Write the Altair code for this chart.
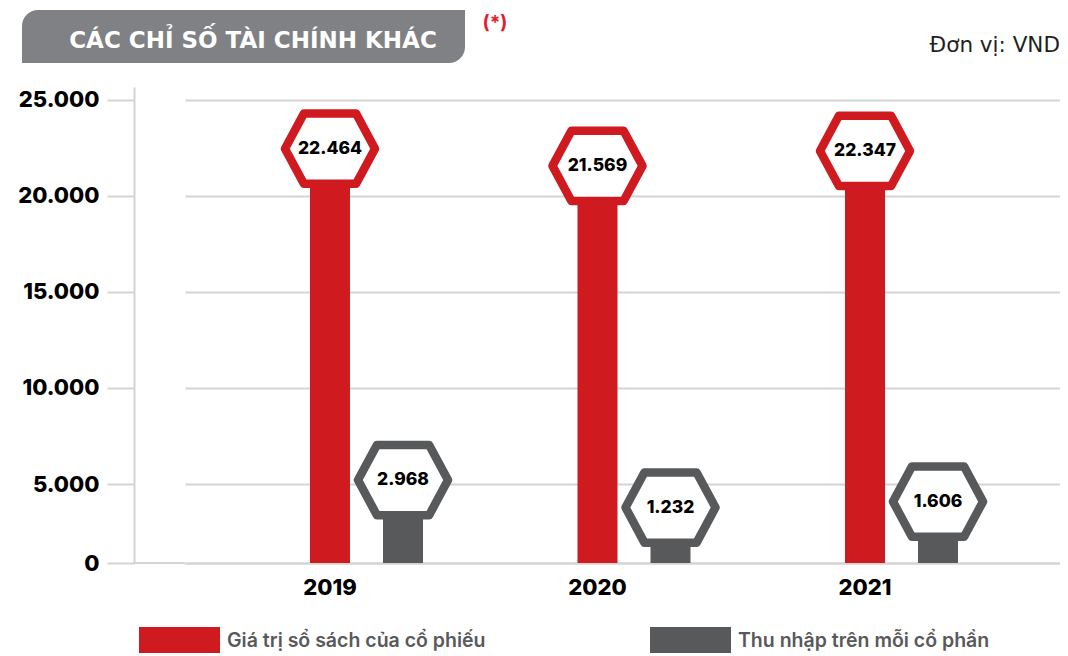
import altair as alt
import pandas as pd

YEARS = ["2019", "2020", "2021"]
BOOK_VALUE = [22464, 21569, 22347]
EPS = [2968, 1232, 1606]
SERIES = ["Giá trị sổ sách của cổ phiếu", "Thu nhập trên mỗi cổ phần"]
COLORS = ["#cf1a20", "#58595b"]
Y_TICKS = [0, 5000, 10000, 15000, 20000, 25000]
TITLE = "CÁC CHỈ SỐ TÀI CHÍNH KHÁC"
NOTE = "(*)"
UNIT = "Đơn vị: VND"

rows = []
for yr, b, e in zip(YEARS, BOOK_VALUE, EPS):
    rows.append({"year": yr, "series": SERIES[0], "value": b})
    rows.append({"year": yr, "series": SERIES[1], "value": e})
df = pd.DataFrame(rows)
df["label"] = df["value"].map(lambda v: f"{v:,}".replace(",", "."))

FONT = "Inter"
HEAD_FONT = "DejaVu Sans"
GRID = "#d4d4d4"
W, H = 875, 476
HEX = "M -1 0 L -0.58 -0.78 L 0.58 -0.78 L 1 0 L 0.58 0.78 L -0.58 0.78 Z"
RECT = "M -1 -0.333 L 1 -0.333 L 1 0.333 L -1 0.333 Z"

x_enc = alt.X(
    "year:N", sort=YEARS,
    scale=alt.Scale(paddingInner=0, paddingOuter=0.1355, align=0.6586),
    axis=alt.Axis(title=None, labelAngle=0, ticks=False, grid=False,
                  domainColor=GRID, domainWidth=2,
                  labelFont=FONT, labelFontSize=22, labelFontWeight=800,
                  labelColor="#000000", labelPadding=14, labelOffset=-36.5),
)
xo_enc = alt.XOffset("series:N", sort=SERIES,
                     scale=alt.Scale(paddingInner=0, paddingOuter=0.832))
y_scale = alt.Scale(domain=[0, 5000, 25677], range=[H, 397, 0], zero=False, nice=False)
y_axis = alt.Axis(values=Y_TICKS, title=None, offset=51, tickSize=27, tickWidth=2,
                  tickColor=GRID, domainColor=GRID, domainWidth=2,
                  grid=True, gridColor=GRID, gridWidth=2,
                  labelFont=FONT, labelFontSize=22, labelFontWeight=800,
                  labelColor="#000000", labelPadding=8,
                  labelExpr="replace(format(datum.value, ','), ',', '.')")


def y_enc(field="value:Q"):
    return alt.Y(field, scale=y_scale, axis=y_axis)


base = alt.Chart(df)

bars = base.mark_bar(size=40).encode(
    x=x_enc, xOffset=xo_enc,
    y=y_enc(),
    y2=alt.datum(0),
    color=alt.Color("series:N", sort=SERIES,
                    scale=alt.Scale(domain=SERIES, range=COLORS),
                    legend=alt.Legend(orient="none", legendX=-46, legendY=513,
                                      direction="horizontal", title=None,
                                      symbolType=RECT, symbolSize=6561,
                                      symbolStrokeWidth=0, symbolOpacity=1,
                                      labelFont=FONT, labelFontSize=19.5,
                                      labelFontWeight=600, labelColor="#58595b",
                                      labelLimit=500,
                                      labelOffset=7, columnPadding=164, padding=0)),
)

baseline_ext = alt.Chart(pd.DataFrame({"value": [0]})).mark_rule(
    color=GRID, strokeWidth=2).encode(
    y=y_enc(), x=alt.value(-51), x2=alt.value(0))

layers = [bars, baseline_ext]
for s, col, yo in [(SERIES[0], COLORS[0], 0), (SERIES[1], COLORS[1], -36)]:
    sub = base.transform_filter(alt.datum.series == s)
    hexes = sub.mark_point(shape=HEX, size=8100, filled=True, fill="white",
                           stroke=col, strokeWidth=8.5, opacity=1, fillOpacity=1,
                           strokeOpacity=1, strokeJoin="round", yOffset=yo).encode(
        x=x_enc, xOffset=xo_enc, y=y_enc())
    texts = sub.mark_text(font=FONT, fontSize=17.5, fontWeight=800, color="#000000",
                          baseline="middle", yOffset=yo).encode(
        x=x_enc, xOffset=xo_enc, y=y_enc(), text="label:N")
    layers += [hexes, texts]

tdf = pd.DataFrame({"t": [TITLE], "n": [NOTE], "u": [UNIT]})
tbase = alt.Chart(tdf)
title_box = tbase.mark_rect(color="#808184", cornerRadiusTopLeft=16,
                            cornerRadiusBottomRight=16).encode(
    x=alt.value(-163), x2=alt.value(280), y=alt.value(-77), y2=alt.value(-24))
title_txt = tbase.mark_text(font=HEAD_FONT, fontSize=23, fontWeight="bold", color="white",
                            align="center", baseline="alphabetic").encode(
    x=alt.value(68), y=alt.value(-39), text="t:N")
note_txt = tbase.mark_text(font=FONT, fontSize=19, fontWeight="bold", color="#e3202a",
                           align="center", baseline="alphabetic").encode(
    x=alt.value(310), y=alt.value(-58), text="n:N")
unit_txt = tbase.mark_text(font=HEAD_FONT, fontSize=21.5, color="#231f20",
                           align="right", baseline="alphabetic").encode(
    x=alt.value(W), y=alt.value(-35), text="u:N")
layers += [title_box, title_txt, note_txt, unit_txt]

chart = alt.layer(*layers).properties(
    width=W, height=H,
    padding={"left": 177, "top": 79, "right": 0, "bottom": 90},
    autosize=alt.AutoSizeParams(type="none"),
).configure_view(stroke=None)

chart.save("out.html", embed_options={"renderer": "svg", "actions": False})
